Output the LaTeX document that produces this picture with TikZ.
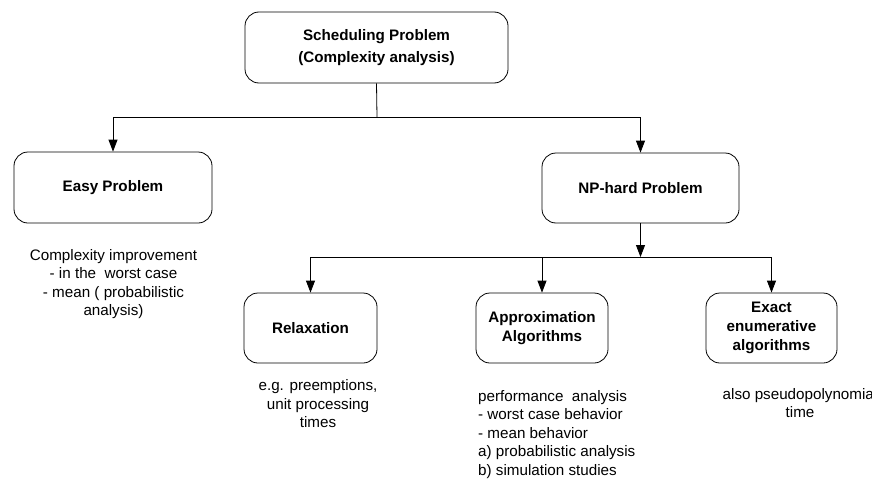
\documentclass[tikz,border=0pt]{standalone}
\usepackage{fontspec}
\setmainfont{Liberation Sans}
\usetikzlibrary{arrows.meta}
\begin{document}
\begin{tikzpicture}[x=1pt,y=-1pt,
  box/.style={draw=black,line width=0.8pt,rounded corners=14pt,inner sep=0pt,
    align=center,font=\fontsize{15.2}{19}\selectfont\bfseries},
  note/.style={inner sep=0pt,font=\fontsize{15.2}{18.5}\selectfont},
  conn/.style={line width=0.8pt,draw=black},
  arr/.style={conn,-{Triangle[length=12pt,width=9pt]}}]
\useasboundingbox (0,0) rectangle (872,479);
\node[box,minimum width=263pt,minimum height=71pt,font=\fontsize{15.2}{22}\selectfont\bfseries] (top) at (376.5,47.5) {Scheduling Problem\\(Complexity analysis)};
\node[box,minimum width=198pt,minimum height=71pt] (easy) at (113,187.5) {Easy Problem};
\node[box,minimum width=197pt,minimum height=70pt] (np) at (640.5,188) {NP-hard Problem};
\node[box,minimum width=133pt,minimum height=70pt] (relax) at (310.5,328) {Relaxation};
\node[box,minimum width=132pt,minimum height=70pt] (approx) at (542,328) {Approximation\\Algorithms};
\node[box,minimum width=131pt,minimum height=70pt] (exact) at (771.5,328) {Exact\\enumerative\\algorithms};
\coordinate (busA) at (377,117);
\coordinate (busB) at (640.5,257);
\draw[conn] (top.south) -- (busA);
\draw[conn] (easy.north |- busA) -- (np.north |- busA);
\draw[arr] (easy.north |- busA) -- (easy.north);
\draw[arr] (np.north |- busA) -- (np.north);
\draw[arr] (np.south) -- (busB);
\draw[conn] (relax.north |- busB) -- (exact.north |- busB);
\draw[arr] (relax.north |- busB) -- (relax.north);
\draw[arr] (approx.north |- busB) -- (approx.north);
\draw[arr] (exact.north |- busB) -- (exact.north);
\node[note,align=center] (easyt) at (113.5,284) {Complexity improvement\\- in the\ \ worst case\\- mean ( probabilistic\\analysis)};
\node[note,align=center] (relaxt) at (318,404) {e.g. preemptions,\\unit processing\\times};
\node[note,align=left,anchor=west] (approxt) at (478,434.5) {performance\ \ analysis\\- worst case behavior\\- mean behavior\\a) probabilistic analysis\\b) simulation studies};
\node[note,align=center] (exactt) at (800,403) {also pseudopolynomial\\time};
\end{tikzpicture}
\end{document}
